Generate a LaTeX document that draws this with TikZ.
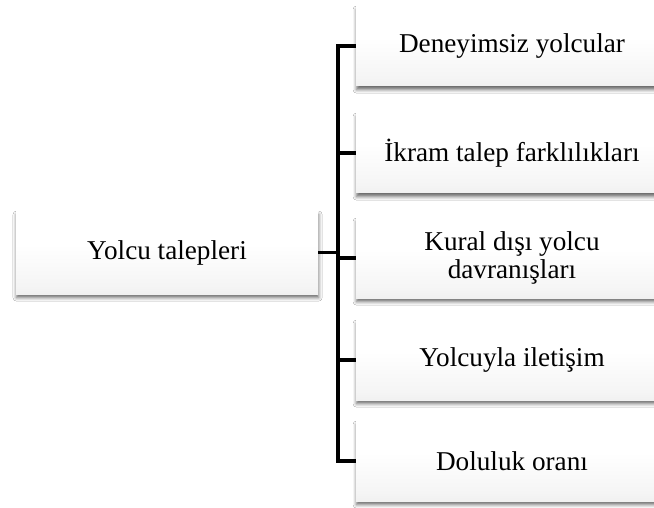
\documentclass[tikz,border=0pt]{standalone}
\usepackage{fontspec}
\setmainfont{Liberation Serif}
\usetikzlibrary{shadows.blur}
\pgfdeclareverticalshading{panelfill}{100bp}{
  color(0bp)=(black!13); color(30bp)=(black!4); color(55bp)=(white); color(100bp)=(white)}
\tikzset{
  panel/.style={shading=panelfill, draw=none, align=center,
    font=\fontsize{13.6}{14}\selectfont, text=black,
    blur shadow={shadow xshift=0.3pt, shadow yshift=-1.8pt,
      shadow blur radius=1.8pt, shadow opacity=60}},
  rootbox/.style={panel, minimum width=151pt, minimum height=41.5pt},
  leafbox/.style={panel, minimum width=156pt, minimum height=40pt},
  conn/.style={draw=black, line width=1.7pt}
}
\begin{document}
\begin{tikzpicture}[x=0.5pt, y=-0.5pt]
  \clip (0,0) rectangle (654,508);
  \fill[white] (0,0) rectangle (654,508);

  \node[rootbox] (root) at (167,252.5) {Yolcu talepleri};

  \node[leafbox] (c1) at (512,46)  {Deneyimsiz yolcular};
  \node[leafbox] (c2) at (512,153) {İkram talep farklılıkları};
  \node[leafbox] (c3) at (512,258) {Kural dışı yolcu\\davranışları};
  \node[leafbox] (c4) at (512,360) {Yolcuyla iletişim};
  \node[leafbox] (c5) at (512,461) {Doluluk oranı};

  % vertical trunk joining the children
  \coordinate (trunk) at (338,0);
  \draw[conn] (c1.west) -- (c1.west -| trunk) -- (c5.west -| trunk) -- (c5.west);
  \draw[conn] (root.east) -- (root.east -| trunk);
  \draw[conn] (c2.west -| trunk) -- (c2.west);
  \draw[conn] (c3.west -| trunk) -- (c3.west);
  \draw[conn] (c4.west -| trunk) -- (c4.west);
\end{tikzpicture}
\end{document}
